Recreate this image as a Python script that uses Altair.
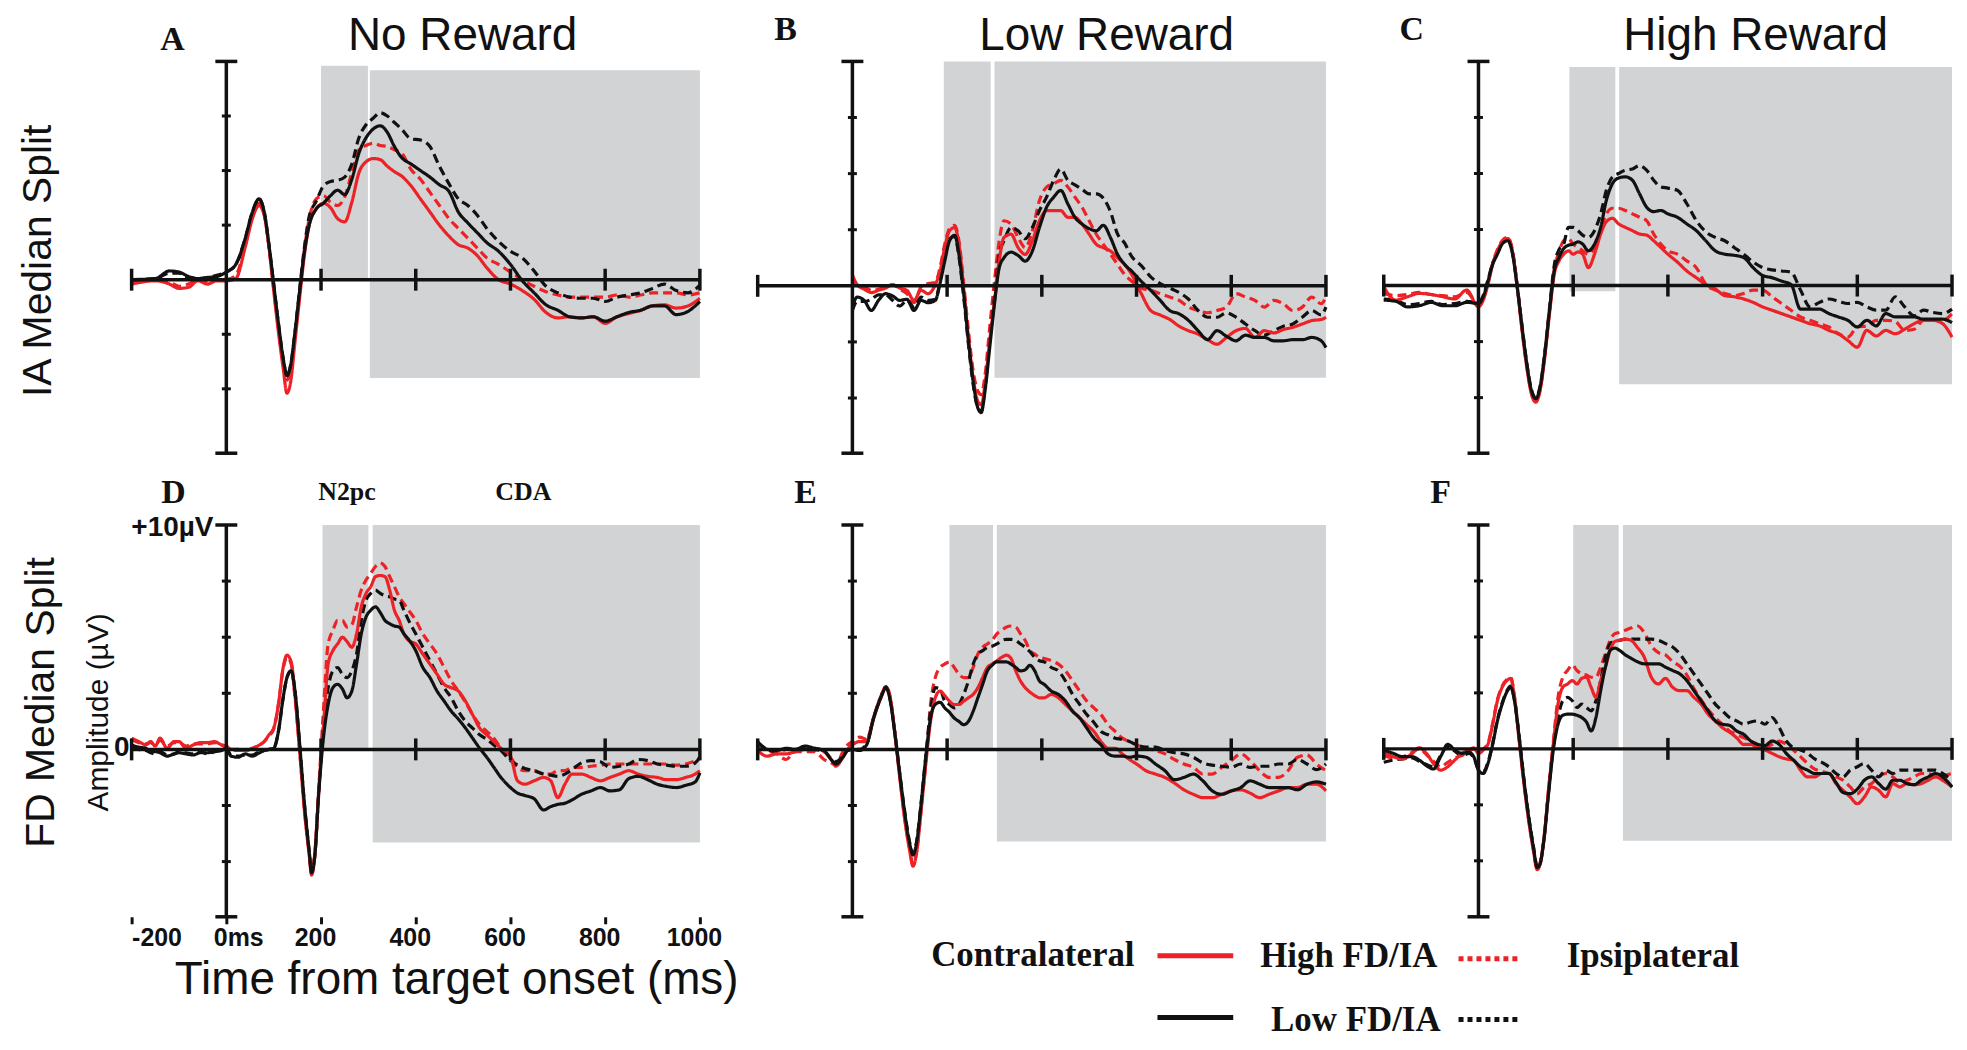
import altair as alt
import pandas as pd

RED = "#ec2227"
BLACK = "#111111"
GRAY = "#d2d3d4"
SANS = "Liberation Sans, Arial, sans-serif"
SERIF = "Liberation Serif, Times New Roman, serif"

PANEL_W = 570
PANEL_H = 393

X_TICKS = [-200, 200, 400, 600, 800, 1000]
Y_MINOR = [-5, -2.5, 2.5, 5, 7.5]
D_TICK_LABELS = [-200, 0, 200, 400, 600, 800, 1000]
TITLES = ["No Reward", "Low Reward", "High Reward"]
LETTERS = ["A", "B", "C", "D", "E", "F"]

# ---------------- Panel A : IA median split, no reward ----------------
A_T = [-200, -150, -120, -100, -80, -60, -40, -20, 0, 20, 40, 55, 69, 80, 90, 100, 110, 120, 128, 136,
       145, 155, 165, 175, 190, 205, 220, 235, 250, 265, 280, 295, 310, 325, 340, 355, 370, 390, 410, 430,
       450, 470, 490, 510, 530, 550, 575, 600, 625, 650, 675, 700, 725, 750, 775, 800, 825, 850, 875, 900,
       925, 950, 975, 1000]
A_LC = [0, 0.05, 0.4, 0.35, 0.15, 0.05, 0.1, 0.15, 0.35,
        0.7, 1.9, 3.1, 3.7, 3.1, 1.6, -0.2, -2.0, -3.6, -4.4, -3.9, -2.4, -0.5, 1.3, 2.5,
        3.25, 3.5, 3.85, 4.1, 3.9, 4.6, 5.8, 6.5, 6.9, 7.05, 6.75, 6.1, 5.6,
        5.3, 5.0, 4.7, 4.35, 4.05, 3.1, 2.6, 2.15, 1.7,
        1.3, 0.7, -0.05, -0.6, -1.15, -1.4, -1.7, -1.75, -1.7, -1.9, -1.7, -1.5, -1.4, -1.2, -1.2, -1.6, -1.45, -1.0]
A_LI = [0, 0.05, 0.3, 0.3, 0.1, 0.05, 0.1, 0.2, 0.35,
        0.7, 1.9, 3.1, 3.7, 3.1, 1.6, -0.2, -2.0, -3.6, -4.4, -3.9, -2.4, -0.4, 1.5, 2.9,
        3.6, 4.3, 4.5, 4.55, 4.7, 5.3, 6.5, 7.1, 7.4, 7.65, 7.5, 7.2, 6.9,
        6.45, 6.4, 6.1, 5.2, 4.4, 3.7, 3.4, 2.95, 2.35,
        1.75, 1.3, 1.0, 0.4, -0.3, -0.6, -0.8, -0.85, -0.85, -1.0, -0.8, -0.7, -0.6, -0.4, -0.2, -0.5, -0.6, -0.25]
A_HC = [-0.2, -0.05, -0.2, -0.4, -0.35, -0.05, -0.2, -0.05, -0.05,
        0.05, 1.5, 2.8, 3.4, 2.95, 1.5, -0.5, -2.4, -4.05, -5.2, -4.65, -2.85, -0.8, 1.15, 2.5,
        3.25, 3.5, 3.3, 2.8, 2.65, 3.55, 4.9, 5.4, 5.55, 5.5, 5.2, 4.95, 4.75,
        4.3, 3.7, 3.1, 2.5, 2.0, 1.6, 1.45, 1.1, 0.55,
        0.0, -0.2, -0.5, -0.9, -1.5, -1.75, -1.7, -1.75, -1.7, -2.0, -1.7, -1.55, -1.4, -1.2, -1.15, -1.3, -1.2, -0.85]
A_HI = [-0.1, 0.0, -0.1, -0.3, -0.2, 0.0, -0.1, 0.0, 0.0,
        0.2, 1.6, 2.9, 3.5, 3.0, 1.5, -0.4, -2.2, -3.8, -4.6, -4.1, -2.5, -0.5, 1.4, 2.8,
        3.7, 3.85, 3.55, 3.4, 3.8, 4.9, 5.95, 6.15, 6.25, 6.15, 6.1, 5.95, 5.8,
        5.05, 4.6, 4.0, 3.4, 2.8, 2.35, 1.9, 1.45, 1.0,
        0.7, 0.35, 0.0, -0.3, -0.55, -0.7, -0.8, -0.8, -0.8, -0.8, -0.7, -0.8, -0.7, -0.6, -0.6, -0.6, -0.7, -0.6]
A_N2PC = [200, 299, 0.0, 9.8]
A_CDA = [303, 1000, -4.5, 9.6]

# ---------------- Panel B : IA median split, low reward ----------------
B_T = [0, 10, 25, 40, 55, 70, 85, 100, 115, 130, 145, 160, 175,
       185, 195, 205, 216, 225, 235, 245, 255, 265, 272, 280, 290, 300,
       310, 320, 335, 350, 365, 380, 395, 410, 425, 440, 455, 470, 485, 500, 515, 530, 545, 560, 575, 590,
       610, 630, 650, 670, 690, 710, 730, 750, 770, 790, 810, 830, 850, 870, 890, 910, 930, 950, 970, 990,
       1000]
B_LC = [-0.95, -0.5, -0.65, -1.1, -0.65, -0.35, -0.45, -0.65, -0.6, -1.1, -0.65, -0.75, -0.65,
        0.1, 1.1, 2.0, 2.25, 1.4, -0.35, -2.45, -4.25, -5.45, -5.65, -4.7, -2.75, -0.8,
        0.8, 1.25, 1.5, 1.35, 1.1, 1.55, 2.6, 3.5, 3.95, 4.25, 3.65, 3.05, 2.75, 2.55, 2.45, 2.7, 2.15, 1.4, 0.95, 0.65,
        0.2, -0.2, -0.65, -1.1, -1.25, -1.55, -2.0, -2.4, -2.0, -2.25, -2.45, -2.2, -2.3, -2.3, -2.45, -2.45, -2.4, -2.4, -2.3, -2.45,
        -2.75]
B_LI = [-1.1, -0.7, -0.7, -0.6, -0.4, -0.4, -0.65, -0.9, -0.65, -0.95, -0.5, -0.65, -0.6,
        0.2, 1.4, 2.1, 2.2, 1.3, -0.5, -2.6, -4.4, -5.45, -5.6, -4.55, -2.45, -0.5,
        1.4, 2.0, 2.6, 2.45, 2.1, 2.6, 3.35, 3.95, 4.7, 5.2, 4.7, 4.5, 4.3, 4.1, 4.1, 3.9, 3.3, 2.3, 1.9, 1.3,
        0.9, 0.4, 0.1, -0.1, -0.3, -0.6, -1.1, -1.4, -1.4, -1.2, -1.4, -1.7, -2.0, -2.2, -2.0, -1.8, -1.7, -1.4, -1.1, -1.3,
        -0.95]
B_HC = [0.5, 0.05, -0.15, -0.3, -0.2, -0.1, 0.05, -0.1, -0.2, -0.65, -0.2, -0.35, 0.05,
        0.65, 1.7, 2.45, 2.6, 1.85, -0.1, -2.35, -4.1, -5.15, -5.3, -4.4, -2.45, -0.7,
        1.1, 2.15, 2.3, 1.7, 1.4, 2.0, 2.9, 3.35, 3.35, 3.35, 3.05, 3.05, 2.75, 2.3, 1.85, 1.7, 1.55, 1.25, 0.95, 0.5,
        -0.35, -1.1, -1.3, -1.5, -1.8, -2.0, -2.15, -2.4, -2.6, -2.3, -2.0, -1.9, -2.3, -2.0, -2.1, -1.95, -1.85, -1.7, -1.55, -1.5,
        -1.4]
B_HI = [0.35, 0.05, -0.05, -0.2, -0.15, -0.05, 0.05, -0.15, -0.35, -0.75, -0.05, 0.1, 0.15,
        0.8, 1.85, 2.55, 2.7, 2.0, 0.1, -2.0, -3.8, -4.7, -4.85, -4.0, -1.85, 0.2,
        2.0, 2.9, 2.75, 2.15, 1.7, 2.45, 3.8, 4.4, 4.55, 4.7, 4.4, 3.95, 3.5, 2.9, 2.3, 1.85, 1.4, 0.95, 0.5, 0.2,
        -0.1, -0.2, -0.35, -0.5, -0.65, -0.95, -1.1, -1.2, -1.1, -0.95, -0.35, -0.5, -0.65, -0.95, -0.65, -0.8, -1.1, -0.95, -0.5, -0.8,
        -0.5]
B_N2PC = [193, 292, 0.0, 10.0]
B_CDA = [300, 1000, -4.1, 10.0]

# ---------------- Panel C : IA median split, high reward ----------------
C_T = [-200, -175, -150, -125, -100, -75, -50, -25, 0,
       10, 20, 30, 40, 50, 62, 72, 82, 92, 102, 112, 121, 130, 140, 150, 160, 170, 180,
       190, 200, 210, 220, 232, 245, 258, 270, 283, 296, 310, 325, 340, 355, 370, 385, 400,
       420, 440, 460, 480, 500, 520, 540, 560, 580, 600, 620, 640, 660, 680, 700, 720, 740, 760, 780, 800,
       820, 840, 860, 880, 900, 920, 940, 960, 980, 1000]
C_LC = [-0.65, -0.7, -0.95, -0.9, -0.75, -0.9, -0.9, -0.75, -0.8,
        -0.5, 0.2, 0.95, 1.4, 1.85, 2.0, 1.4, -0.1, -1.85, -3.5, -4.7, -5.05, -4.55, -3.05, -1.1, 0.65, 1.25, 1.65,
        1.8, 1.85, 1.95, 1.85, 1.55, 1.85, 2.6, 3.8, 4.55, 4.8, 4.85, 4.7, 4.1, 3.5, 3.3, 3.35, 3.2,
        3.05, 2.75, 2.45, 2.0, 1.55, 1.4, 1.35, 1.25, 0.8, 0.45, 0.35, 0.2, 0.05, -1.05, -1.05, -1.05, -1.25, -1.4, -1.55, -1.85,
        -1.55, -1.8, -1.25, -1.4, -1.4, -1.4, -1.5, -1.5, -1.5, -1.65]
C_LI = [-0.6, -0.65, -0.85, -0.8, -0.7, -0.85, -0.8, -0.7, -0.75,
        -0.45, 0.25, 1.0, 1.45, 1.9, 2.05, 1.45, -0.05, -1.8, -3.45, -4.65, -5.0, -4.5, -3.0, -1.0, 0.9, 1.6, 1.85,
        2.6, 2.6, 2.45, 2.25, 2.15, 2.45, 3.2, 4.25, 4.85, 5.0, 5.15, 5.2, 5.35, 5.15, 4.7, 4.4, 4.35,
        4.25, 3.65, 2.9, 2.4, 2.15, 2.0, 1.7, 1.4, 1.05, 0.8, 0.7, 0.65, 0.6, -0.2, -0.95, -0.75, -0.6, -0.7, -0.8, -0.75,
        -0.95, -1.1, -1.1, -0.5, -0.95, -1.35, -1.1, -1.2, -1.25, -1.05]
C_HC = [-0.05, -0.65, -0.5, -0.35, -0.4, -0.5, -0.6, -0.2, -0.95,
        -0.65, 0.05, 0.95, 1.55, 1.95, 2.1, 1.5, -0.1, -2.0, -3.65, -4.85, -5.2, -4.7, -3.2, -1.25, 0.5, 1.1, 1.4,
        1.55, 1.4, 1.5, 1.4, 0.8, 1.4, 2.3, 2.85, 3.0, 2.75, 2.6, 2.45, 2.3, 2.25, 2.0, 1.7, 1.4,
        1.05, 0.65, 0.35, 0.05, -0.15, -0.45, -0.5, -0.6, -0.75, -0.95, -1.1, -1.25, -1.4, -1.55, -1.7, -1.8, -2.0, -2.15, -2.45, -2.75,
        -2.0, -2.25, -2.0, -2.15, -1.95, -1.7, -1.55, -1.55, -1.7, -2.3]
C_HI = [-0.35, -0.45, -0.4, -0.3, -0.4, -0.45, -0.5, -0.3, -0.85,
        -0.6, 0.1, 1.0, 1.6, 2.0, 2.15, 1.55, -0.05, -1.95, -3.6, -4.8, -5.15, -4.65, -3.1, -1.1, 0.7, 1.5, 2.0,
        2.1, 1.85, 1.7, 1.55, 1.4, 1.7, 2.45, 3.2, 3.45, 3.45, 3.35, 3.2, 3.05, 2.9, 2.3, 1.85, 1.55,
        1.4, 1.1, 0.8, 0.05, -0.2, -0.35, -0.45, -0.35, -0.2, -0.2, -0.5, -0.8, -1.1, -1.4, -1.55, -1.7, -1.85, -2.15, -2.3, -1.85,
        -1.8, -1.55, -1.55, -1.6, -2.0, -1.95, -1.55, -1.55, -1.55, -1.25]
C_N2PC = [192, 289, -0.25, 9.75]
C_CDA = [297, 1000, -4.4, 9.75]

# ---------------- Panel D : FD median split, no reward ----------------
D_T = [-200, -185, -170, -160, -150, -140, -125, -110, -100, -85, -70, -55, -40, -25, -10,
       0, 10, 25, 40, 55, 70, 80, 90, 100,
       110, 120, 128, 137, 145, 155, 165, 175, 180, 187, 195, 205,
       215, 225, 235, 245, 255, 265, 275, 285, 295, 305, 315, 325, 335, 345, 355, 365, 375, 385,
       400, 415, 430, 445, 460, 475, 490, 505, 520, 535, 550, 565, 580,
       600, 615, 630, 650, 670, 685, 700, 715, 730,
       750, 770, 790, 810, 830, 850, 870, 890, 910, 930, 950, 970, 990,
       1000]
D_LC = [0.2, 0.1, 0.05, -0.1, -0.1, -0.15, -0.3, -0.2, -0.15, -0.2, -0.25, -0.15, -0.15, -0.1, -0.05,
        0.05, -0.3, -0.35, -0.2, -0.3, -0.15, -0.05, 0.0, 0.05,
        0.8, 2.3, 3.2, 3.5, 2.6, 0.2, -2.45, -4.55, -5.5, -4.7, -2.0, 0.5,
        2.0, 2.75, 2.9, 2.7, 2.3, 2.6, 3.8, 5.15, 5.9, 6.2, 6.35, 6.1, 5.75, 5.6, 5.5, 5.45, 5.15, 4.9,
        4.4, 3.65, 3.2, 2.6, 2.15, 1.7, 1.35, 0.95, 0.5, 0.05, -0.35, -0.8, -1.25,
        -1.7, -1.95, -2.05, -2.2, -2.7, -2.55, -2.45, -2.4, -2.25,
        -2.0, -1.85, -1.7, -1.85, -1.8, -1.3, -1.2, -1.35, -1.55, -1.65, -1.7, -1.6, -1.45,
        -1.05]
D_LI = [0.1, 0.0, -0.05, -0.15, -0.2, -0.1, -0.25, -0.2, -0.1, -0.15, -0.2, -0.1, -0.2, -0.1, 0.0,
        0.0, -0.25, -0.3, -0.25, -0.25, -0.1, -0.05, 0.0, 0.05,
        0.8, 2.3, 3.2, 3.5, 2.6, 0.2, -2.45, -4.55, -5.5, -4.7, -2.0, 1.0,
        2.75, 3.5, 3.65, 3.35, 3.2, 3.5, 4.25, 5.75, 6.65, 6.95, 7.1, 6.95, 6.85, 6.8, 6.7, 6.65, 6.2, 5.75,
        5.15, 4.55, 3.95, 3.35, 2.75, 2.3, 1.7, 1.25, 0.95, 0.65, 0.45, 0.2, -0.05,
        -0.5, -0.7, -0.85, -0.95, -1.1, -1.15, -1.2, -1.1, -0.9,
        -0.6, -0.5, -0.55, -0.8, -0.75, -0.65, -0.45, -0.5, -0.65, -0.7, -0.75, -0.75, -0.6,
        -0.35]
D_HC = [0.5, 0.35, 0.2, 0.35, 0.15, 0.5, 0.05, 0.35, 0.35, 0.05, 0.2, 0.3, 0.3, 0.35, 0.2,
        0.15, 0.0, 0.0, -0.05, 0.05, 0.2, 0.35, 0.65, 0.95,
        2.0, 3.65, 4.2, 3.9, 2.4, -0.1, -2.75, -4.7, -5.6, -4.7, -1.9, 0.95,
        3.8, 4.4, 4.7, 5.0, 4.8, 4.55, 5.15, 6.35, 6.95, 7.25, 7.7, 7.75, 7.7, 7.1, 6.2, 5.75, 5.15, 4.85,
        4.7, 4.25, 3.8, 3.35, 2.9, 2.75, 2.6, 2.15, 1.55, 0.95, 0.65, 0.35, 0.05,
        -0.3, -1.4, -1.55, -1.4, -1.25, -1.4, -2.15, -1.55, -1.1,
        -1.1, -1.25, -1.4, -1.25, -1.1, -0.95, -1.1, -1.2, -1.25, -1.35, -1.35, -1.25, -1.1,
        -0.95]
D_HI = [0.45, 0.3, 0.25, 0.3, 0.2, 0.4, 0.15, 0.3, 0.3, 0.15, 0.25, 0.25, 0.25, 0.3, 0.2,
        0.1, -0.05, -0.05, -0.05, 0.05, 0.2, 0.35, 0.6, 0.9,
        2.0, 3.6, 4.1, 3.8, 2.3, -0.1, -2.7, -4.6, -5.5, -4.6, -1.8, 1.7,
        4.7, 5.3, 5.75, 5.75, 5.45, 5.55, 6.35, 7.1, 7.55, 7.85, 8.15, 8.3, 8.15, 7.7, 7.25, 6.8, 6.5, 6.2,
        5.75, 5.15, 4.7, 4.25, 3.65, 3.05, 2.6, 2.1, 1.55, 1.1, 0.8, 0.5, 0.05,
        -0.35, -0.8, -0.95, -0.95, -1.1, -1.1, -0.95, -0.95, -0.8,
        -0.8, -0.75, -0.7, -0.65, -0.65, -0.65, -0.65, -0.65, -0.65, -0.65, -0.7, -0.65, -0.5,
        -0.35]
D_N2PC = [203, 300, 0.0, 10.0]
D_CDA = [309, 1000, -4.15, 10.0]

# ---------------- Panel E : FD median split, low reward ----------------
E_T = [-200, -180, -160, -140, -120, -100, -80, -60, -45, -35, -20, -10,
       0, 15, 30, 45, 60, 71, 80, 90, 100,
       110, 120, 128, 136, 145, 155, 165, 175,
       185, 195, 205, 215, 225, 235, 245, 255, 265, 275, 285, 295, 305, 315, 325, 335, 345, 355, 365, 375, 385, 395, 405,
       420, 435, 450, 465, 480, 495, 510, 525, 540, 555, 570, 585, 600,
       620, 640, 660, 680, 700, 720, 740, 760, 780, 800, 820, 840, 860, 880, 900, 920, 940, 960, 980, 1000]
E_LC = [0.35, 0.0, -0.05, 0.05, 0.0, 0.15, 0.05, -0.05, -0.45, -0.65, -0.35, -0.05,
        0.0, -0.05, 0.2, 1.4, 2.3, 2.75, 2.15, 0.65, -1.1,
        -2.75, -4.1, -4.7, -4.1, -2.45, -0.35, 1.4, 2.0,
        2.1, 1.85, 1.65, 1.4, 1.25, 1.1, 1.25, 1.7, 2.3, 2.9, 3.5, 3.75, 3.9, 3.9, 3.9, 3.8, 3.65, 3.5, 3.55, 3.75, 3.5, 3.05, 2.9,
        2.6, 2.45, 2.15, 1.7, 1.4, 0.95, 0.5, 0.2, -0.2, -0.3, -0.3, -0.35, -0.3,
        -0.35, -0.65, -0.95, -1.35, -1.25, -1.1, -1.4, -1.85, -2.0, -1.85, -1.7, -1.4, -1.55, -1.7, -1.7, -1.7, -1.8, -1.55, -1.45, -1.55]
E_LI = [0.3, 0.0, -0.1, 0.0, 0.0, 0.1, 0.0, -0.1, -0.4, -0.55, -0.3, -0.05,
        0.0, 0.0, 0.25, 1.45, 2.35, 2.8, 2.2, 0.7, -1.05,
        -2.7, -4.05, -4.65, -4.05, -2.4, -0.3, 1.7, 2.75,
        2.7, 2.15, 2.0, 1.85, 2.0, 2.45, 3.05, 3.8, 4.25, 4.4, 4.55, 4.6, 4.7, 4.85, 4.9, 4.9, 4.85, 4.7, 4.55, 4.35, 4.1, 3.95, 3.9,
        3.65, 3.5, 3.05, 2.45, 2.0, 1.55, 1.2, 0.8, 0.65, 0.5, 0.45, 0.35, 0.2,
        0.1, 0.1, -0.05, -0.15, -0.2, -0.35, -0.6, -0.7, -0.75, -0.8, -0.65, -0.8, -0.75, -0.75, -0.65, -0.65, -0.45, -0.65, -0.9, -0.65]
E_HC = [-0.05, -0.3, -0.2, -0.2, -0.1, 0.0, 0.05, -0.1, -0.45, -0.75, -0.35, 0.0,
        0.2, 0.35, 0.35, 1.4, 2.3, 2.75, 2.3, 0.65, -1.25,
        -3.05, -4.4, -5.2, -4.55, -2.75, -0.65, 1.25, 2.3,
        2.6, 2.4, 2.15, 2.0, 2.0, 2.15, 2.3, 2.45, 2.75, 3.2, 3.65, 3.8, 3.95, 4.1, 4.2, 4.05, 3.5, 3.05, 2.75, 2.55, 2.4, 2.3, 2.3,
        2.45, 2.3, 2.0, 1.7, 1.4, 1.1, 0.8, 0.35, 0.05, 0.05, -0.2, -0.45, -0.65,
        -0.95, -1.1, -1.25, -1.5, -1.8, -2.0, -2.15, -2.15, -2.0, -1.85, -1.8, -1.95, -2.15, -2.0, -1.85, -1.7, -1.7, -1.55, -1.55, -1.85]
E_HI = [0.2, -0.05, -0.2, -0.45, -0.1, -0.1, -0.1, -0.45, -0.6, -0.7, -0.1, 0.2,
        0.35, 0.55, 0.45, 1.45, 2.35, 2.8, 2.3, 0.65, -1.2,
        -3.0, -4.35, -5.1, -4.5, -2.7, -0.6, 2.0, 3.2,
        3.65, 3.8, 3.9, 3.65, 3.35, 3.2, 3.2, 3.65, 4.25, 4.55, 4.7, 4.85, 5.15, 5.3, 5.45, 5.5, 5.45, 5.15, 4.85, 4.4, 4.25, 4.1, 4.05,
        3.95, 3.8, 3.5, 3.05, 2.6, 2.15, 1.85, 1.55, 1.1, 0.8, 0.5, 0.35, 0.2,
        0.05, -0.05, -0.2, -0.45, -0.65, -0.8, -1.1, -1.1, -0.8, -0.5, -0.2, -0.5, -0.95, -1.25, -1.25, -0.95, -0.35, -0.25, -0.65, -0.95]
E_N2PC = [205, 297, 0.0, 10.0]
E_CDA = [305, 1000, -4.1, 10.0]

# ---------------- Panel F : FD median split, high reward ----------------
F_T = [-200, -180, -160, -140, -125, -110, -95, -80, -65, -50, -35, -20, -10,
       0, 10, 20, 30, 40, 50, 60, 68,
       76, 86, 96, 106, 116, 124, 130, 138, 148, 158,
       168, 178, 188, 198, 208, 218, 228, 238, 248, 258, 268, 278, 288, 298,
       310, 322, 335,
       350, 365, 380, 395, 410, 425, 440, 455, 470, 485, 500, 515, 530, 545, 560, 575, 590, 605, 620, 635,
       650, 665, 680, 695, 710, 725, 740, 755, 770, 785, 800, 815, 830, 845, 860, 875, 890, 905, 920, 935,
       950, 965, 980,
       1000]
F_LC = [-0.05, -0.2, -0.35, -0.35, -0.5, -0.75, -0.9, -0.35, 0.2, -0.05, -0.2, -0.15, -0.35,
        -0.95, -1.1, -0.65, 0.2, 1.25, 2.0, 2.55, 2.75,
        2.15, 0.5, -1.4, -3.05, -4.4, -5.3, -5.15, -4.1, -2.0, -0.05,
        1.1, 1.5, 1.55, 1.55, 1.5, 1.4, 1.2, 0.8, 1.4, 2.6, 3.65, 4.4, 4.5, 4.4,
        4.2, 4.05, 3.9,
        3.8, 3.8, 3.8, 3.65, 3.5, 3.35, 3.05, 2.6, 2.15, 1.7, 1.25, 1.1, 1.05, 0.8, 0.65, 0.35, 0.2, 0.15, 0.35, 0.2,
        -0.2, -0.5, -0.8, -0.95, -1.1, -1.1, -1.1, -1.5, -1.95, -2.0, -1.8, -1.4, -1.25, -1.55, -1.8, -1.4, -1.4, -1.55, -1.6, -1.4,
        -1.25, -1.1, -1.25,
        -1.7]
F_LI = [-0.6, -0.5, -0.45, -0.4, -0.55, -0.7, -0.8, -0.3, 0.1, -0.1, -0.3, -0.2, -0.4,
        -0.9, -1.0, -0.6, 0.25, 1.3, 2.05, 2.6, 2.8,
        2.2, 0.55, -1.35, -3.0, -4.35, -5.25, -5.1, -4.05, -1.9, 0.1,
        1.4, 2.15, 2.3, 2.15, 1.85, 2.0, 1.85, 1.7, 2.15, 3.05, 4.1, 4.7, 4.8, 4.85,
        4.9, 4.9, 4.9,
        4.9, 4.9, 4.85, 4.7, 4.55, 4.25, 3.8, 3.35, 2.9, 2.45, 2.0, 1.7, 1.4, 1.25, 1.1, 1.2, 1.25, 1.1, 1.4, 0.95,
        0.35, 0.05, -0.05, -0.2, -0.45, -0.6, -0.8, -1.1, -1.25, -0.95, -0.8, -0.65, -0.95, -1.25, -0.95, -1.1, -0.95, -0.95, -0.95, -0.95,
        -0.95, -0.95, -1.1,
        -1.4]
F_HC = [-0.15, -0.35, -0.45, -0.2, 0.05, -0.2, -0.65, -0.95, -0.8, -0.5, -0.2, -0.05, 0.05,
        -0.2, -0.05, 0.2, 1.1, 2.15, 2.75, 3.05, 3.15,
        2.3, 0.35, -1.55, -3.2, -4.55, -5.4, -5.15, -4.1, -1.85, 0.2,
        2.0, 2.75, 2.9, 3.05, 2.9, 3.15, 3.2, 2.75, 2.3, 3.05, 3.65, 4.4, 4.8, 4.85,
        4.9, 4.85, 4.55,
        4.1, 3.2, 2.9, 3.15, 2.75, 2.6, 2.6, 2.3, 2.0, 1.55, 1.25, 0.95, 0.75, 0.5, 0.2, 0.2, 0.05, -0.05, -0.2, -0.35,
        -0.45, -0.5, -0.95, -1.25, -1.25, -1.1, -1.1, -1.55, -1.85, -2.15, -2.45, -2.15, -1.7, -1.85, -2.15, -1.55, -1.7, -1.55, -1.6, -1.55,
        -1.4, -1.25, -1.4,
        -1.7]
F_HI = [-0.3, -0.4, -0.35, -0.15, 0.0, -0.25, -0.55, -0.8, -0.6, -0.4, -0.3, -0.1, 0.0,
        -0.15, 0.0, 0.25, 1.15, 2.2, 2.8, 3.1, 3.2,
        2.35, 0.4, -1.5, -3.15, -4.5, -5.35, -5.1, -4.05, -1.8, 0.3,
        2.3, 3.2, 3.5, 3.75, 3.5, 3.35, 3.3, 3.2, 3.2, 3.65, 4.25, 4.85, 5.15, 5.2,
        5.3, 5.4, 5.5,
        5.2, 4.6, 4.3, 4.2, 3.9, 3.7, 3.3, 2.7, 2.2, 1.75, 1.4, 1.1, 0.8, 0.65, 0.5, 0.35, 0.2, 0.1, 0.2, 0.35,
        0.2, -0.05, -0.35, -0.65, -0.9, -1.0, -1.1, -1.25, -1.4, -1.7, -2.0, -1.7, -1.55, -1.25, -1.1, -1.25, -1.5, -1.4, -1.25, -1.1,
        -1.1, -1.25, -1.2,
        -1.1]
F_N2PC = [200, 296, 0.0, 10.0]
F_CDA = [305, 1000, -4.1, 10.0]

PANELS = [
    dict(letter="A", t=A_T, HC=A_HC, HI=A_HI, LC=A_LC, LI=A_LI, n2pc=A_N2PC, cda=A_CDA, ymin=-7.95),
    dict(letter="B", t=B_T, HC=B_HC, HI=B_HI, LC=B_LC, LI=B_LI, n2pc=B_N2PC, cda=B_CDA, ymin=-7.46),
    dict(letter="C", t=C_T, HC=C_HC, HI=C_HI, LC=C_LC, LI=C_LI, n2pc=C_N2PC, cda=C_CDA, ymin=-7.48),
    dict(letter="D", t=D_T, HC=D_HC, HI=D_HI, LC=D_LC, LI=D_LI, n2pc=D_N2PC, cda=D_CDA, ymin=-7.46),
    dict(letter="E", t=E_T, HC=E_HC, HI=E_HI, LC=E_LC, LI=E_LI, n2pc=E_N2PC, cda=E_CDA, ymin=-7.46),
    dict(letter="F", t=F_T, HC=F_HC, HI=F_HI, LC=F_LC, LI=F_LI, n2pc=F_N2PC, cda=F_CDA, ymin=-7.5),
]

SERIES_ORDER = ["HI", "LI", "HC", "LC"]
SERIES_COLORS = [RED, BLACK, RED, BLACK]
SERIES_DASH = [[9, 5], [9, 5], [1, 0], [1, 0]]


def txt(s, x, y, size, font=SANS, weight="normal", align="center", baseline="middle", angle=0):
    kw = dict(fontSize=size, font=font, fontWeight=weight, align=align, baseline=baseline, color=BLACK)
    if angle:
        kw["angle"] = angle
    return alt.Chart(pd.DataFrame({"s": [s]})).mark_text(**kw).encode(
        text="s:N", x=alt.value(x), y=alt.value(y))


def seg(x1, x2, y, color, dash=None, width=5):
    kw = dict(color=color, strokeWidth=width)
    if dash:
        kw["strokeDash"] = dash
    return alt.Chart(pd.DataFrame({"k": [0]})).mark_rule(**kw).encode(
        x=alt.value(x1), x2=alt.value(x2), y=alt.value(y))


def panel(p, extra):
    xs = alt.Scale(domain=[-200, 1000], nice=False, zero=False)
    ys = alt.Scale(domain=[p["ymin"], 10], nice=False, zero=False)
    if p["letter"] == "D":
        xaxis = alt.Axis(values=D_TICK_LABELS, domain=False, ticks=True, tickSize=7, tickWidth=3,
                         tickColor=BLACK, grid=False, labelFont=SANS, labelFontSize=25,
                         labelFontWeight="bold", labelColor=BLACK, labelPadding=2,
                         labelFlush=False, labelOverlap=False,
                         labelAlign={"condition": {"test": "datum.value == -200", "value": "left"},
                                     "value": "center"},
                         labelOffset={"condition": [{"test": "datum.value == 0", "value": 12},
                                                    {"test": "datum.value > 0", "value": -6}],
                                      "value": 0},
                         labelExpr="datum.value == 0 ? '0ms' : '' + datum.value")
    else:
        xaxis = None

    def X(f):
        return alt.X(f, type="quantitative", scale=xs, axis=xaxis, title=None)

    def Y(f):
        return alt.Y(f, type="quantitative", scale=ys, axis=None, title=None)

    rows = []
    for s in SERIES_ORDER:
        vals = p[s]
        if len(vals) != len(p["t"]):
            raise ValueError(f"panel {p['letter']} series {s}: {len(vals)} values vs {len(p['t'])} times")
        for t, v in zip(p["t"], vals):
            rows.append({"t": t, "v": v, "s": s})
    cdf = pd.DataFrame(rows)

    sdf = pd.DataFrame([dict(x1=b[0], x2=b[1], y1=b[2], y2=b[3]) for b in (p["n2pc"], p["cda"])])

    shade = alt.Chart(sdf).mark_rect(color=GRAY).encode(x=X("x1"), x2="x2", y=Y("y1"), y2="y2")
    lines = alt.Chart(cdf).mark_line(strokeWidth=3.2, interpolate="monotone").encode(
        x=X("t"), y=Y("v"),
        color=alt.Color("s:N", scale=alt.Scale(domain=SERIES_ORDER, range=SERIES_COLORS), legend=None),
        strokeDash=alt.StrokeDash("s:N", scale=alt.Scale(domain=SERIES_ORDER, range=SERIES_DASH), legend=None),
    )
    xline = alt.Chart(pd.DataFrame({"x1": [-200], "x2": [1000], "y": [0]})).mark_rule(
        color=BLACK, strokeWidth=3.5).encode(x=X("x1"), x2="x2", y=Y("y"))
    xt = alt.Chart(pd.DataFrame({"x": X_TICKS, "y": [0] * len(X_TICKS)})).mark_tick(
        orient="vertical", size=22, thickness=3.5, color=BLACK, opacity=1).encode(x=X("x"), y=Y("y"))
    yline = alt.Chart(pd.DataFrame({"x": [0], "y1": [p["ymin"]], "y2": [10]})).mark_rule(
        color=BLACK, strokeWidth=3.5).encode(x=X("x"), y=Y("y1"), y2="y2")
    ycap = alt.Chart(pd.DataFrame({"x": [0, 0], "y": [p["ymin"], 10]})).mark_tick(
        orient="horizontal", size=22, thickness=3.5, color=BLACK, opacity=1).encode(x=X("x"), y=Y("y"))
    ymin_t = alt.Chart(pd.DataFrame({"x": [0] * len(Y_MINOR), "y": Y_MINOR})).mark_tick(
        orient="horizontal", size=9, thickness=3, color=BLACK, opacity=1).encode(x=X("x"), y=Y("y"))

    layers = [shade, lines, xline, xt, yline, ycap, ymin_t] + extra
    return alt.layer(*layers).properties(width=PANEL_W, height=PANEL_H)


LETTER_POS = {"A": (41, -21), "B": (28, -31), "C": (28, -31), "D": (42, -32), "E": (48, -32), "F": (57, -32)}
TITLE_POS = [(332, -25), (350, -25), (373, -25)]

charts = []
for i, p in enumerate(PANELS):
    lx, ly = LETTER_POS[p["letter"]]
    extra = [txt(p["letter"], lx, ly, 34, font=SERIF, weight="bold")]
    if i < 3:
        tx, ty = TITLE_POS[i]
        extra.append(txt(TITLES[i], tx, ty, 46))
    if p["letter"] == "A":
        extra.append(txt("IA Median Split", -93, 200, 41, angle=270))
    if p["letter"] == "D":
        extra += [
            txt("FD Median Split", -90, 178, 41, angle=270),
            txt("Amplitude (\u00b5V)", -33, 188, 30, angle=270),
            txt("Time from target onset (ms)", 326, 456, 46),
            txt("+10\u00b5V", 82, 3, 28, weight="bold", align="right"),
            txt("0", -2, 224, 28, weight="bold", align="right"),
            txt("N2pc", 216, -33, 26, font=SERIF, weight="bold"),
            txt("CDA", 393, -33, 26, font=SERIF, weight="bold"),
        ]
    if p["letter"] == "E":
        extra += [
            txt("Contralateral", 276, 431, 35, font=SERIF, weight="bold"),
            seg(401, 477, 432, RED),
            txt("High FD/IA", 593, 432, 35, font=SERIF, weight="bold"),
            seg(703, 765, 435, RED, dash=[5, 4]),
            txt("Ipsiplateral", 898, 432, 35, font=SERIF, weight="bold"),
            seg(401, 477, 494, BLACK),
            txt("Low FD/IA", 600, 497, 35, font=SERIF, weight="bold"),
            seg(703, 765, 496, BLACK, dash=[5, 4]),
        ]
    charts.append(panel(p, extra))

chart = alt.concat(*charts, columns=3, spacing={"row": 72, "column": 58}, bounds="flush").properties(
    padding={"left": 10, "top": 4, "right": 0, "bottom": 0}
).configure(background="white").configure_view(strokeWidth=0)

chart.save("out.html", embed_options={"renderer": "svg", "actions": False})
